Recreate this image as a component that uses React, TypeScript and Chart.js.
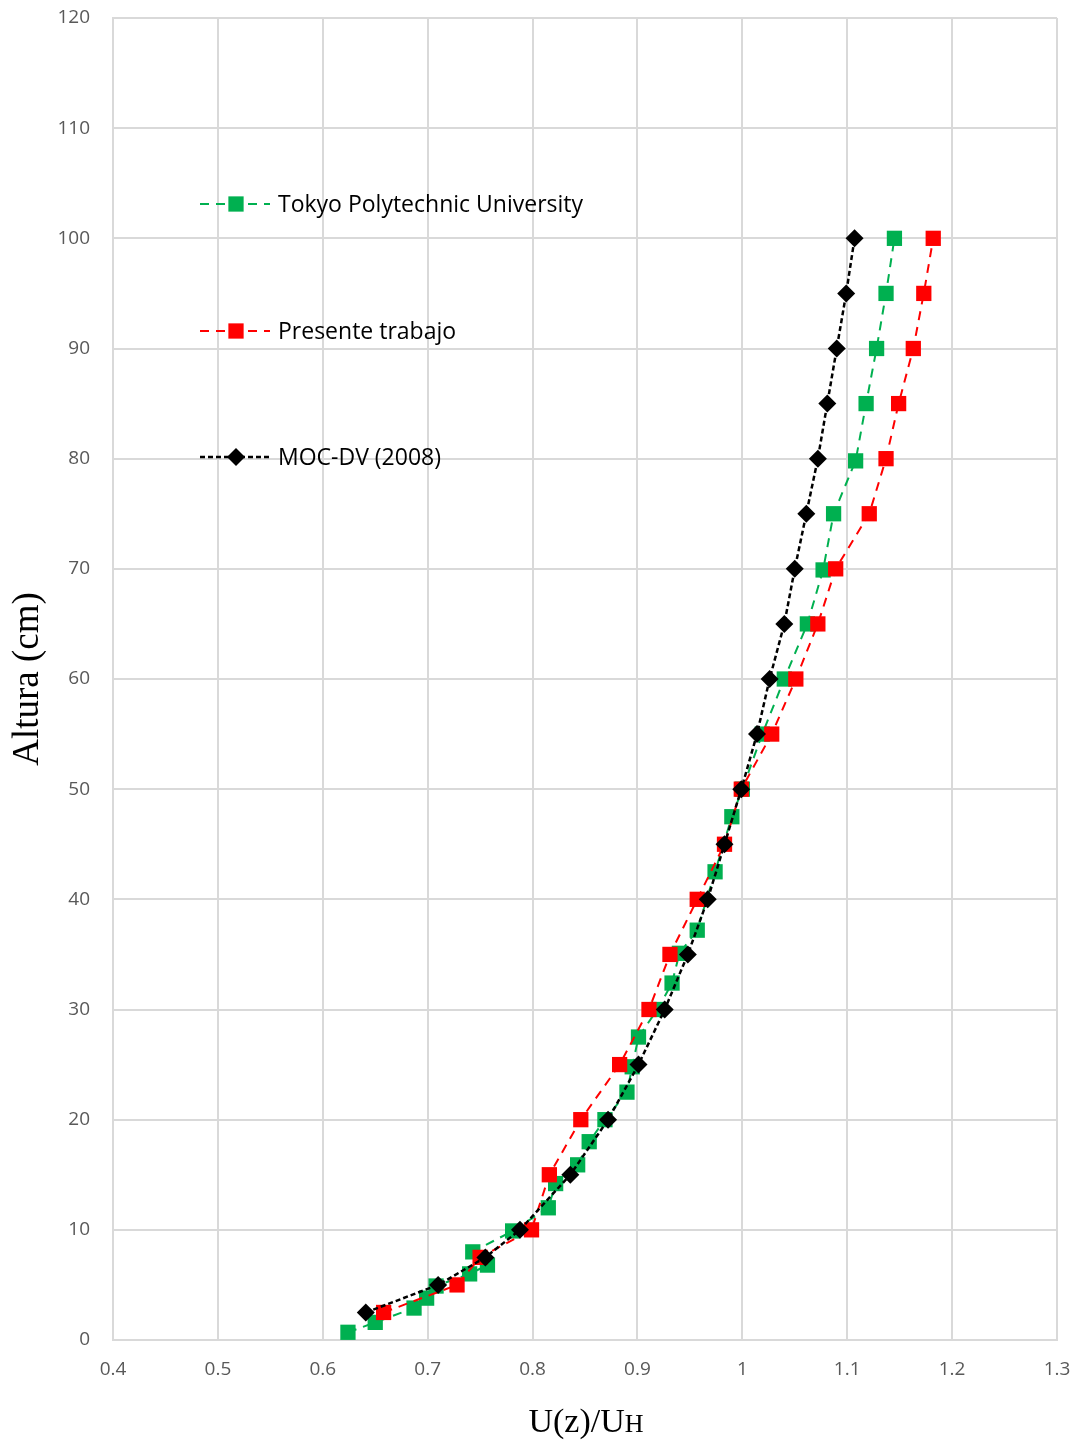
import React, { useEffect, useRef } from "react";
import { Chart, registerables } from "chart.js";

Chart.register(...registerables);

// ---- data ----
const tokyoU = [0.624, 0.65, 0.687, 0.699, 0.708, 0.74, 0.757, 0.743, 0.781, 0.815, 0.822, 0.843, 0.854, 0.869, 0.89, 0.895, 0.901, 0.919, 0.933, 0.94, 0.957, 0.974, 0.99, 1.0, 1.019, 1.04, 1.062, 1.077, 1.087, 1.108, 1.118, 1.128, 1.137, 1.145];
const tokyoZ = [0.7, 1.6, 2.9, 3.8, 4.9, 6.0, 6.8, 8.0, 9.9, 12.0, 14.2, 15.9, 18.0, 20.0, 22.5, 24.8, 27.5, 30.0, 32.4, 35.1, 37.2, 42.5, 47.5, 50.0, 55.0, 60.0, 65.0, 69.9, 75.0, 79.8, 85.0, 90.0, 95.0, 100.0];

const presenteU = [0.658, 0.728, 0.75, 0.799, 0.816, 0.846, 0.883, 0.911, 0.931, 0.957, 0.983, 0.999, 1.028, 1.051, 1.072, 1.089, 1.121, 1.137, 1.149, 1.163, 1.173, 1.182];
const presenteZ = [2.5, 5, 7.5, 10, 15, 20, 25, 30, 35, 40, 45, 50, 55, 60, 65, 70, 75, 80, 85, 90, 95, 100];

const mocU = [0.641, 0.71, 0.755, 0.788, 0.836, 0.872, 0.901, 0.926, 0.948, 0.967, 0.983, 0.999, 1.014, 1.026, 1.04, 1.05, 1.061, 1.072, 1.081, 1.09, 1.099, 1.107];
const mocZ = [2.5, 5, 7.5, 10, 15, 20, 25, 30, 35, 40, 45, 50, 55, 60, 65, 70, 75, 80, 85, 90, 95, 100];

const seriesNames = ["Tokyo Polytechnic University", "Presente trabajo", "MOC-DV (2008)"];
const xTickRange = { min: 0.4, max: 1.3, step: 0.1 };
const yTickRange = { min: 0, max: 120, step: 10 };
const xTitleMain = "U(z)/U";
const xTitleSub = "H";
const yTitle = "Altura (cm)";

const toPoints = (xs: number[], ys: number[]) => xs.map((x, i) => ({ x, y: ys[i] }));

const GREEN = "#00b050";
const RED = "#ff0000";
const BLACK = "#000000";

const legendPlugin = {
  id: "insideLegend",
  afterDraw(chart: any) {
    const { ctx, chartArea } = chart;
    const ds = chart.data.datasets;
    const baseX = chartArea.left + 87;
    const ys = [186, 313, 439];
    ctx.save();
    [0, 1, 2].forEach((idx, k) => {
      const d = ds[idx];
      const y = chartArea.top + ys[k];
      const x1 = baseX;
      const x2 = baseX + 70;
      const mx = baseX + 36;
      ctx.strokeStyle = d.borderColor;
      ctx.lineWidth = d.borderWidth;
      ctx.setLineDash(d.borderDash);
      ctx.beginPath();
      ctx.moveTo(x1, y);
      ctx.lineTo(x2, y);
      ctx.stroke();
      ctx.setLineDash([]);
      ctx.fillStyle = d.pointBackgroundColor;
      const r = d.pointRadius;
      ctx.beginPath();
      if (d.pointStyle === "rect") {
        const s = r * Math.SQRT1_2;
        ctx.rect(mx - s, y - s, 2 * s, 2 * s);
      } else {
        ctx.moveTo(mx, y - r);
        ctx.lineTo(mx + r, y);
        ctx.lineTo(mx, y + r);
        ctx.lineTo(mx - r, y);
        ctx.closePath();
      }
      ctx.fill();
      ctx.fillStyle = "#000000";
      ctx.font = '23px "Open Sans"';
      ctx.textBaseline = "middle";
      ctx.textAlign = "left";
      ctx.fillText(d.label, baseX + 78, y + 1);
    });
    ctx.restore();
  },
};

const xTitlePlugin = {
  id: "xTitle",
  afterDraw(chart: any) {
    const { ctx, chartArea } = chart;
    ctx.save();
    ctx.fillStyle = "#000000";
    ctx.textBaseline = "alphabetic";
    ctx.textAlign = "left";
    const mainFont = '34px "Liberation Serif"';
    const subFont = '26px "Liberation Serif"';
    ctx.font = mainFont;
    const w1 = ctx.measureText(xTitleMain).width;
    ctx.font = subFont;
    const w2 = ctx.measureText(xTitleSub).width;
    const cx = (chartArea.left + chartArea.right) / 2 + 1;
    const x0 = cx - (w1 + w2) / 2;
    const base = chartArea.bottom + 92;
    ctx.font = mainFont;
    ctx.fillText(xTitleMain, x0, base);
    ctx.font = subFont;
    ctx.fillText(xTitleSub, x0 + w1, base);
    ctx.restore();
  },
};

export default function App() {
  const ref = useRef<HTMLCanvasElement | null>(null);
  useEffect(() => {
    document.body.style.margin = "0";
    if (!ref.current) return;
    const common = {
      showLine: true,
      pointBorderWidth: 0,
      tension: 0,
    };
    const chart = new Chart(ref.current, {
      type: "scatter",
      data: {
        datasets: [
          {
            ...common,
            label: seriesNames[0],
            data: toPoints(tokyoU, tokyoZ),
            borderColor: GREEN,
            backgroundColor: GREEN,
            pointBackgroundColor: GREEN,
            pointBorderColor: GREEN,
            borderWidth: 2,
            borderDash: [9, 7],
            pointStyle: "rect",
            pointRadius: 10.8,
            pointHoverRadius: 10.8,
            order: 2,
          } as any,
          {
            ...common,
            label: seriesNames[1],
            data: toPoints(presenteU, presenteZ),
            borderColor: RED,
            backgroundColor: RED,
            pointBackgroundColor: RED,
            pointBorderColor: RED,
            borderWidth: 2,
            borderDash: [9, 7],
            pointStyle: "rect",
            pointRadius: 10.8,
            pointHoverRadius: 10.8,
            order: 1,
          } as any,
          {
            ...common,
            label: seriesNames[2],
            data: toPoints(mocU, mocZ),
            borderColor: BLACK,
            backgroundColor: BLACK,
            pointBackgroundColor: BLACK,
            pointBorderColor: BLACK,
            borderWidth: 2.5,
            borderDash: [5, 3],
            pointStyle: "rectRot",
            pointRadius: 9,
            pointHoverRadius: 9,
            order: 0,
          } as any,
        ],
      },
      options: {
        responsive: false,
        animation: false,
        layout: { padding: { top: 18, right: 19, left: 0, bottom: 0 } },
        plugins: {
          legend: { display: false },
          tooltip: { enabled: false },
        },
        scales: {
          x: {
            type: "linear",
            min: xTickRange.min,
            max: xTickRange.max,
            ticks: {
              stepSize: xTickRange.step,
              color: "#595959",
              font: { family: "Open Sans", size: 19 },
              padding: 18,
              callback: (v: any) => String(Number(Number(v).toFixed(1))),
            },
            grid: { color: "#d9d9d9", lineWidth: 2, drawTicks: false },
            border: { color: "#d9d9d9", width: 2 },
            title: { display: false },
            afterFit: (s: any) => {
              s.height = 101;
              s.paddingLeft = 0;
              s.paddingRight = 0;
            },
          },
          y: {
            type: "linear",
            min: yTickRange.min,
            max: yTickRange.max,
            ticks: {
              stepSize: yTickRange.step,
              color: "#595959",
              font: { family: "Open Sans", size: 19 },
              padding: 23,
            },
            grid: { color: "#d9d9d9", lineWidth: 2, drawTicks: false },
            border: { color: "#d9d9d9", width: 2 },
            title: {
              display: true,
              text: yTitle,
              color: "#000000",
              font: { family: "Liberation Serif", size: 37 },
              padding: { top: 6, bottom: 0 },
            },
            afterFit: (s: any) => {
              s.width = 113;
              s.paddingTop = 0;
              s.paddingBottom = 0;
            },
          },
        },
      },
      plugins: [legendPlugin, xTitlePlugin],
    });
    return () => chart.destroy();
  }, []);
  return (
    <div style={{ width: 1076, height: 1441 }}>
      <canvas ref={ref} width={1076} height={1441} style={{ display: "block" }} />
    </div>
  );
}
